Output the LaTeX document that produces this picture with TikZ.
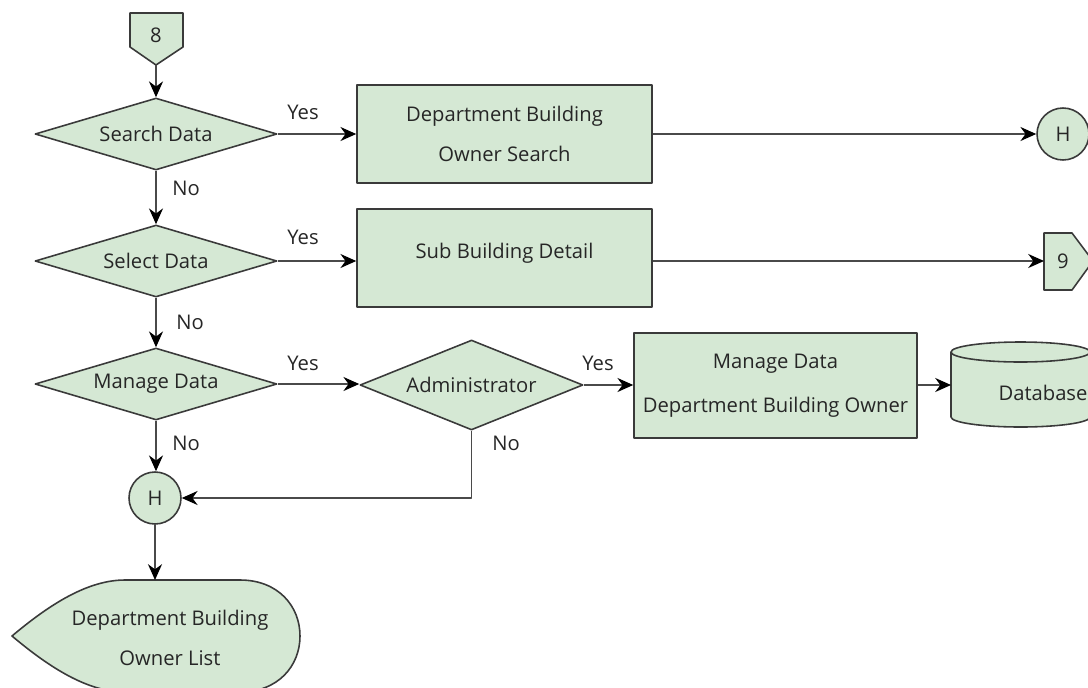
\documentclass[tikz,border=0pt]{standalone}
\usepackage{fontspec}
\setmainfont{Open Sans}
\usetikzlibrary{shapes.geometric,arrows.meta,calc}
\definecolor{boxgreen}{HTML}{D5E8D4}
\definecolor{edgegray}{HTML}{3A3A3A}
\definecolor{flowgray}{HTML}{4A4A4A}

\tikzset{
  shapeline/.style={draw=edgegray,fill=boxgreen,line width=0.9pt},
  decision/.style={shapeline,diamond,aspect=3.4,inner sep=0pt,
    minimum width=4.84cm,minimum height=1.44cm},
  process/.style={shapeline,rectangle,align=center,inner sep=0pt},
  joint/.style={shapeline,circle,inner sep=0pt,minimum size=1.04cm},
  flow/.style={draw=flowgray,line width=0.9pt,-{Stealth[length=9pt,width=8pt,color=black]}},
  answer/.style={inner sep=1pt}
}

\begin{document}
\begin{tikzpicture}[x=0.02cm,y=-0.02cm,line join=round,
  font=\fontsize{11.5}{14}\selectfont,text=black!85]
\useasboundingbox (0,0) rectangle (1088,687);

% ---- off-page connector 8 ----
\draw[shapeline] (130,13) -- (183,13) -- (183,47) -- (156,65) -- (130,47) -- cycle;
\node (p8) at (156,35) {8};
\coordinate (p8tip) at (156,65);

% ---- decisions on the main column ----
\node[decision] (search) at (156,134) {Search Data};
\node[decision] (select) at (156,261) {Select Data};
\node[decision] (manage) at (156,384) {Manage Data};
\node[decision,minimum width=4.46cm,minimum height=1.8cm] (admin) at (471.5,385) {Administrator};

% ---- processes ----
\node[process,minimum width=5.9cm,minimum height=1.96cm] (ownsearch) at (504.5,134)
  {Department Building\\[9pt]Owner Search};
\node[process,minimum width=5.9cm,minimum height=1.96cm,text depth=0.3cm] (subdetail) at (504.5,258)
  {Sub Building Detail};
\node[process,minimum width=5.66cm,minimum height=2.1cm] (managedb) at (775.5,385.5)
  {Manage Data\\[11pt]Department Building Owner};

% ---- connectors H ----
\node[joint] (hright) at (1063,134) {H};
\node[joint] (hleft) at (155,498) {H};

% ---- off-page connector 9 ----
\draw[shapeline] (1044,233) -- (1072,233) -- (1093,261) -- (1072,290) -- (1044,290) -- cycle;
\node (p9) at (1063,261) {9};
\coordinate (p9in) at (1044,261);

% ---- database (y axis points down, so arcs run the other way) ----
\draw[shapeline] (951,352) -- (951,417) arc[start angle=180,end angle=0,x radius=69.5,y radius=10]
  -- (1090,352) arc[start angle=0,end angle=-180,x radius=69.5,y radius=10] -- cycle;
\draw[draw=edgegray,line width=0.9pt] (951,352) arc[start angle=180,end angle=0,x radius=69.5,y radius=10];
\node (db) at (1043,393) {Database};
\coordinate (dbin) at (951,385);

% ---- display: owner list ----
\draw[shapeline] (12,636) .. controls (50,604) and (88,580) .. (125,580) -- (240,580)
  .. controls (278,580) and (300,606) .. (300,636) .. controls (300,666) and (278,692) .. (240,692)
  -- (125,692) .. controls (88,692) and (50,668) .. (12,636) -- cycle;
\node[align=center] (ownlist) at (170,638) {Department Building\\[9pt]Owner List};
\coordinate (listtop) at (155,580);

% ---- flow lines ----
\draw[flow] (p8tip) -- (search.north);
\draw[flow] (search.east) -- (ownsearch.west);
\draw[flow] (ownsearch.east) -- (hright.west);
\draw[flow] (search.south) -- (select.north);
\draw[flow] (select.east) -- (select.east -| subdetail.west);
\draw[flow] (select.east -| subdetail.east) -- (p9in);
\draw[flow] (select.south) -- (manage.north);
\draw[flow] (manage.east) -- (manage.east -| admin.west);
\draw[flow] (admin.east) -- (admin.east -| managedb.west);
\draw[flow] (admin.east -| managedb.east) -- (dbin);
\draw[flow] (manage.south) -- (manage.south |- hleft.north);
\draw[flow] (admin.south) |- (hleft.east);
\draw[flow] (hleft.south) -- (listtop);

% ---- yes / no labels ----
\node[answer] (yes1) at (303,112) {Yes};
\node[answer] (yes2) at (303,237) {Yes};
\node[answer] (yes3) at (303,363) {Yes};
\node[answer] (yes4) at (598,363) {Yes};
\node[answer] (no1) at (186,188) {No};
\node[answer] (no2) at (190,322) {No};
\node[answer] (no3) at (186,443) {No};
\node[answer] (no4) at (506,443) {No};

\end{tikzpicture}
\end{document}
